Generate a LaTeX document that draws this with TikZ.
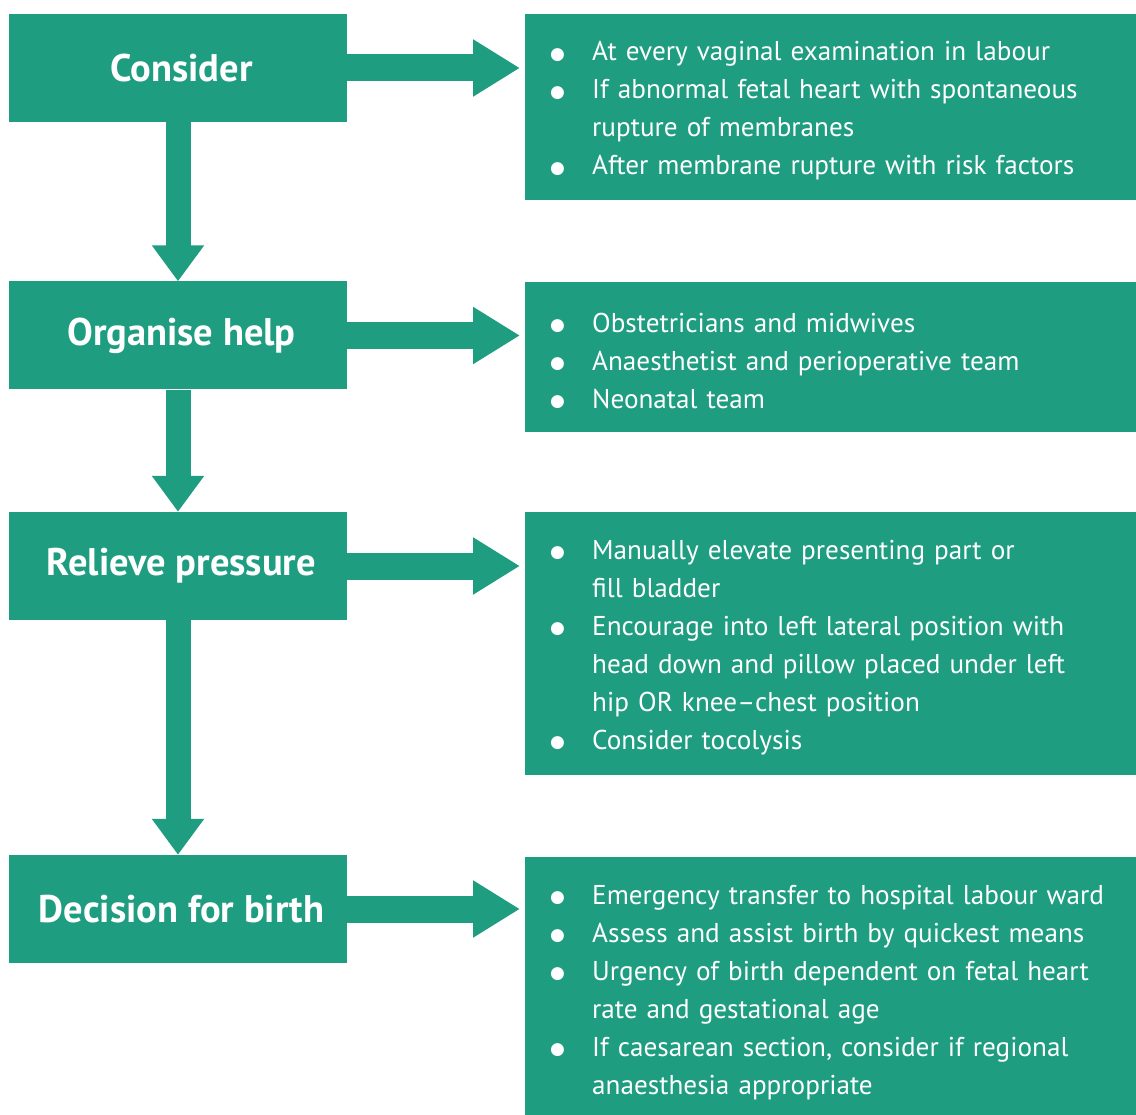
\documentclass[tikz,border=0pt]{standalone}
\usepackage{fontspec}
\setmainfont{PT Sans}
\newfontfamily\dotfont{DejaVu Sans}
\usetikzlibrary{arrows.meta}
\definecolor{cordteal}{RGB}{30,157,128}
\newcommand{\bitem}[1]{\par\noindent\hangindent=40pt\hangafter=1\makebox[40pt][l]{\hspace*{-2pt}\raisebox{1.5pt}{\dotfont\fontsize{17}{17}\selectfont ●}}#1\par}
\newcommand{\infoend}{\endgraf\vspace{11pt}}

\begin{document}
\begin{tikzpicture}
  [x=1pt,y=-1pt,
   stage/.style={rectangle,fill=cordteal,text=white,minimum width=338pt,minimum height=108pt,
     font=\fontsize{38.5}{42}\selectfont\bfseries,execute at begin node=\hspace*{7pt}},
   info/.style={rectangle,fill=cordteal,text=white,anchor=north west,inner xsep=27pt,inner ysep=0pt,
     text width=620pt,align=left,font=\fontsize{27.2}{38}\selectfont,
     execute at end node=\infoend},
   harrow/.style={draw=cordteal,line width=27pt,-{Triangle[length=47pt,width=54pt]},shorten >=5pt},
   varrow/.style={draw=cordteal,line width=25pt,-{Triangle[length=36pt,width=50pt]}}]
  \useasboundingbox (0,0) rectangle (1136,1115);
  \node[stage] (n1) at (178,68) {Consider};
  \node[stage] (n2) at (178,335.5) {Organise help};
  \node[stage] (n3) at (178,566) {Relieve pressure};
  \node[stage] (n4) at (178,909) {Decision for birth};
  \node[info,minimum height=186pt] (i1) at (525,14) {%
    \bitem{At every vaginal examination in labour}
    \bitem{If abnormal fetal heart with spontaneous\newline rupture of membranes}
    \bitem{After membrane rupture with risk factors}};
  \node[info,minimum height=150pt] (i2) at (525,282) {%
    \bitem{Obstetricians and midwives}
    \bitem{Anaesthetist and perioperative team}
    \bitem{Neonatal team}};
  \node[info,minimum height=263pt] (i3) at (525,512) {%
    \bitem{Manually elevate presenting part or\newline fill bladder}
    \bitem{Encourage into left lateral position with\newline head down and pillow placed under left\newline hip OR knee--chest position}
    \bitem{Consider tocolysis}};
  \node[info,minimum height=263pt] (i4) at (525,857) {%
    \bitem{Emergency transfer to hospital labour ward}
    \bitem{Assess and assist birth by quickest means}
    \bitem{Urgency of birth dependent on fetal heart\newline rate and gestational age}
    \bitem{If caesarean section, consider if regional\newline anaesthesia appropriate}};
  \foreach \from/\to in {n1/i1,n2/i2,n3/i3,n4/i4}
    \draw[harrow] (\from.east) -- (\from.east -| \to.west);
  \foreach \from/\to in {n1/n2,n2/n3,n3/n4}
    \draw[varrow] (\from.south) -- (\to.north);
\end{tikzpicture}
\end{document}
